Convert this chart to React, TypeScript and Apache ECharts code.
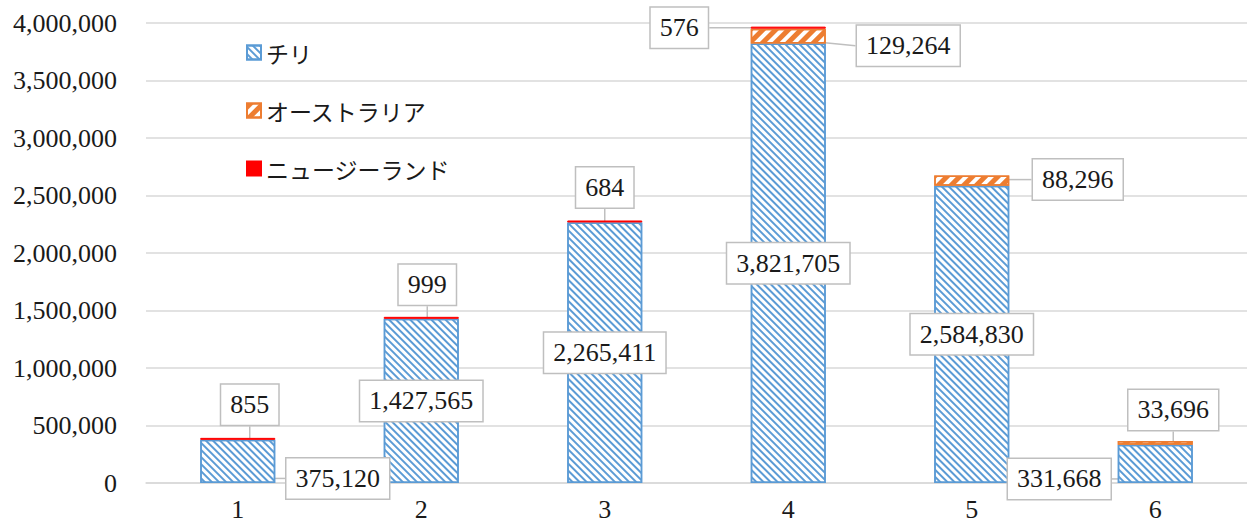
import React, { useEffect, useRef } from "react";
import * as echarts from "echarts";

const categories = ["1", "2", "3", "4", "5", "6"];
const seriesNames = ["チリ", "オーストラリア", "ニュージーランド"];
const chile = [375120, 1427565, 2265411, 3821705, 2584830, 331668];
const australia = [null, null, null, 129264, 88296, 33696];
const newZealand = [855, 999, 684, 576, null, null];

const yMin = 0;
const yMax = 4000000;
const yInterval = 500000;

// label displacement (px) from the library's default label position
const chileLabelShift = [[100, 17], [0, 0], [0, 0], [0, 0], [0, 0], [-96, 15]];
const australiaLabelShift = [[0, 0], [0, 0], [0, 0], [120, 42], [106, 29], [18, -6]];
const nzLabelShift = [[12, -8], [6, -7], [0, -8], [-109, 26], [0, 0], [0, 0]];

const shifts = [chileLabelShift, australiaLabelShift, nzLabelShift];

const NUM_FONT = "'Liberation Serif', 'Times New Roman', serif";
const JP_FONT = "'Noto Sans CJK JP', sans-serif";

const fmt = (v: number) => Number(v).toLocaleString("en-US");

const labelStyle = (position: string) => ({
  show: true,
  position,
  formatter: (p: any) => fmt(p.value),
  fontFamily: NUM_FONT,
  fontSize: 26,
  lineHeight: 26,
  color: "#1a1a1a",
  backgroundColor: "#ffffff",
  borderColor: "#bfbfbf",
  borderWidth: 1.5,
  padding: [7, 9],
});

export default function App() {
  const ref = useRef<HTMLDivElement>(null);
  useEffect(() => {
    if (!ref.current) return;
    const chart = echarts.init(ref.current, null, { renderer: "svg" });
    const labelLine = {
      show: true,
      lineStyle: { color: "#bfbfbf", width: 1.5 },
    };
    chart.setOption({
      animation: false,
      backgroundColor: "#ffffff",
      grid: { left: 146, right: -4, top: 23, bottom: 42, containLabel: false },
      legend: {
        orient: "vertical",
        left: 241,
        top: 36,
        itemWidth: 14,
        itemHeight: 14,
        itemGap: 35,
        icon: "rect",
        textStyle: { fontFamily: JP_FONT, fontSize: 23, color: "#1a1a1a" },
        data: seriesNames,
      },
      xAxis: {
        type: "category",
        data: categories,
        axisLine: { show: true, lineStyle: { color: "#d9d9d9", width: 1.5 } },
        axisTick: { show: false },
        axisLabel: { fontFamily: NUM_FONT, fontSize: 26, color: "#1a1a1a", margin: 13 },
      },
      yAxis: {
        type: "value",
        min: yMin,
        max: yMax,
        interval: yInterval,
        axisLine: { show: false },
        axisTick: { show: false },
        splitLine: { lineStyle: { color: "#d9d9d9", width: 1.5 } },
        axisLabel: {
          fontFamily: NUM_FONT,
          fontSize: 26,
          color: "#1a1a1a",
          margin: 29,
          formatter: (v: number) => fmt(v),
        },
      },
      labelLayout: (params: any) => {
        const s = shifts[params.seriesIndex]?.[params.dataIndex] || [0, 0];
        return { dx: s[0], dy: s[1] };
      },
      series: [
        {
          name: seriesNames[0],
          type: "bar",
          stack: "total",
          barWidth: 75,
          data: chile,
          itemStyle: {
            color: "#ffffff",
            borderColor: "#5b9bd5",
            borderWidth: 1.5,
            decal: {
              symbol: "rect",
              symbolSize: 1,
              color: "#5b9bd5",
              dashArrayX: [1, 0],
              dashArrayY: [1.5, 2.8],
              rotation: Math.PI / 4,
            },
          },
          label: labelStyle("inside"),
          labelLine,
        },
        {
          name: seriesNames[1],
          type: "bar",
          stack: "total",
          barWidth: 75,
          data: australia,
          itemStyle: {
            color: "#ffffff",
            borderColor: "#ed7d31",
            borderWidth: 1.5,
            decal: {
              symbol: "rect",
              symbolSize: 1,
              color: "#ed7d31",
              dashArrayX: [1, 0],
              dashArrayY: [5, 4],
              rotation: -Math.PI / 4,
            },
          },
          label: labelStyle("top"),
          labelLine,
        },
        {
          name: seriesNames[2],
          type: "bar",
          stack: "total",
          barWidth: 75,
          barMinHeight: 2,
          data: newZealand,
          itemStyle: { color: "#ff0000", borderColor: "#ff0000", borderWidth: 1 },
          label: labelStyle("top"),
          labelLine,
        },
      ],
    });
    return () => chart.dispose();
  }, []);
  return (
    <div
      ref={ref}
      style={{ position: "absolute", left: 0, top: 0, width: 1247, height: 525, background: "#fff" }}
    />
  );
}
